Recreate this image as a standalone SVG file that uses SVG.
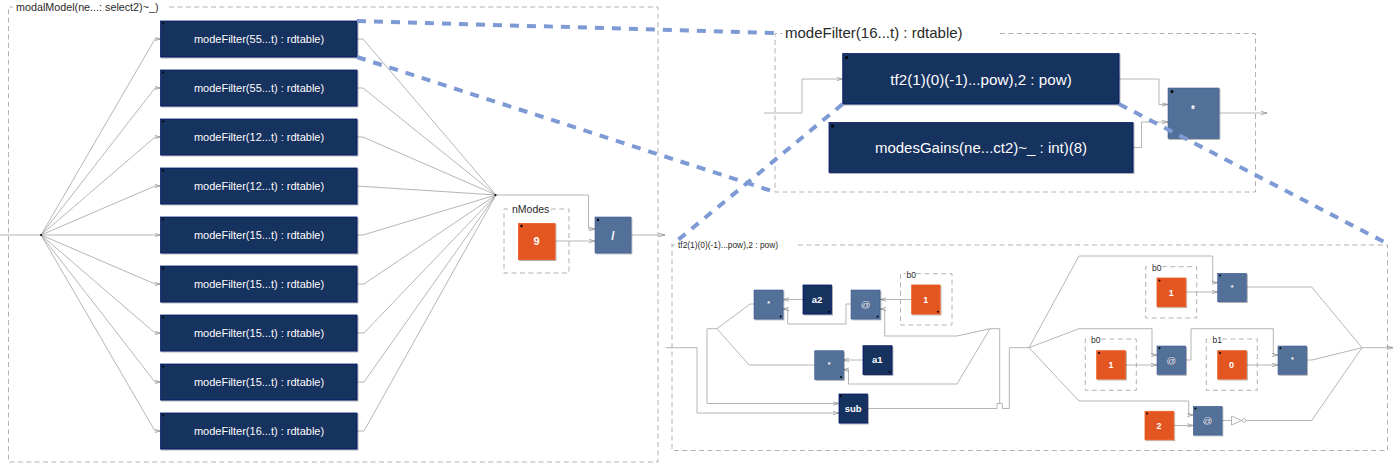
<svg xmlns="http://www.w3.org/2000/svg" width="1400" height="469" viewBox="0 0 1400 469">
<style>
text{font-family:"Liberation Sans",Arial,sans-serif}
.bg{fill:#fff}
.group{fill:none;stroke:#a9a9a9;stroke-width:.9;stroke-dasharray:5 3.4}
.title{fill:#2a2a2a}
.w{fill:none;stroke:#a3a3a3;stroke-width:.8;stroke-linejoin:round}
.a{marker-end:url(#arr)}
.zoom{fill:none;stroke:#7e9ad4;stroke-width:4;stroke-dasharray:9 8}
.dark{fill:#14305f;stroke:#0b1f6b;stroke-width:.8;filter:url(#sh)}
.blue{fill:#527099;stroke:#3f5f96;stroke-width:.6;filter:url(#sh)}
.org{fill:#e35622;stroke:#ee5a1c;stroke-width:.8;filter:url(#sh)}
.l{fill:#fff;text-anchor:middle;stroke:#0d2450;stroke-width:.3;paint-order:stroke}
.n{stroke:none;font-weight:bold}
.d{fill:#000}
</style>
<defs>
<filter id="sh" x="-10%" y="-10%" width="125%" height="125%"><feDropShadow dx="1" dy="1" stdDeviation=".7" flood-color="#000" flood-opacity=".35"/></filter>
<marker id="arr" markerUnits="userSpaceOnUse" markerWidth="8" markerHeight="6" refX="6" refY="3" orient="auto"><path d="M0,1.3L6,3L0,4.7" fill="none" stroke="#8d8d8d" stroke-width=".7"/></marker>
</defs>
<rect class="bg" width="1400" height="469"/>
<g id="groups">
<path class="group" d="M169,7H658V462H8.5V7H13"/>
<path class="group" d="M551,209H569V273H504V209H510"/>
<path class="group" d="M1000,33.500H1255.500V192H775V33.500H782"/>
<path class="group" d="M798,245H1387.500V450.500H672V245H675"/>
<path class="group" d="M916,273.700H952V325H900.500V273.700H906"/>
<path class="group" d="M1162,266.700H1196.700V318H1145.700V266.700H1150.700"/>
<path class="group" d="M1101,339H1136.300V390.300H1085.300V339H1090"/>
<path class="group" d="M1222,339H1257.300V390.300H1206.300V339H1211"/>
<text class="title" x="16" y="11" font-size="10.750">modalModel(ne...: select2)~_)</text>
<text class="title" x="512" y="213" font-size="10.500">nModes</text>
<text class="title" x="785" y="38" font-size="15">modeFilter(16...t) : rdtable)</text>
<text class="title" x="678" y="248" font-size="8.400">tf2(1)(0)(-1)...pow),2 : pow)</text>
<text class="title" x="906.500" y="277.500" font-size="8.500">b0</text>
<text class="title" x="1152" y="270.500" font-size="8.500">b0</text>
<text class="title" x="1091" y="342.500" font-size="8.500">b0</text>
<text class="title" x="1212.500" y="342.500" font-size="8.500">b1</text>
</g>
<g id="connectors">
<path class="w" d="M0,235H41"/>
<path class="w a" d="M41,235L155,39H160.500"/>
<path class="w a" d="M41,235L155,88H160.500"/>
<path class="w a" d="M41,235L155,137H160.500"/>
<path class="w a" d="M41,235L155,186H160.500"/>
<path class="w a" d="M41,235H160.500"/>
<path class="w a" d="M41,235L155,284H160.500"/>
<path class="w a" d="M41,235L155,333H160.500"/>
<path class="w a" d="M41,235L155,382H160.500"/>
<path class="w a" d="M41,235L155,431H160.500"/>
<path class="w" d="M357,39H363L496,195"/>
<path class="w" d="M357,88H363L496,195"/>
<path class="w" d="M357,137H363L496,195"/>
<path class="w" d="M357,186L496,195"/>
<path class="w" d="M357,235H363L496,195"/>
<path class="w" d="M357,284H364L496,195"/>
<path class="w" d="M357,333H364L496,195"/>
<path class="w" d="M357,382H364L496,195"/>
<path class="w" d="M357,431H364L496,195"/>
<path class="w a" d="M496,195H588.500V229H595"/>
<path class="w a" d="M555,241H595"/>
<path class="w a" d="M631,235H665"/>
<path class="w a" d="M764,113H802V79H842.700"/>
<path class="w a" d="M1119,79H1159V104.500H1168"/>
<path class="w a" d="M1133,147.500H1141.500V122H1168"/>
<path class="w a" d="M1219,113H1267"/>
<path class="w a" d="M666,347.700H697V413H839"/>
<path class="w a" d="M717,328.700H707V403.500H839"/>
<path class="w" d="M717,328.700L750,304H754"/>
<path class="w" d="M717,328.700L749,365H815"/>
<path class="w a" d="M803,299.500H783"/>
<path class="w a" d="M851,304H846V324H787.700V309H783"/>
<path class="w a" d="M911.700,299.500H880"/>
<path class="w a" d="M990,328.700L957,336H884.700V309H880"/>
<path class="w a" d="M863,360H843"/>
<path class="w a" d="M990,328.700L957,384H848.500V369.700H843"/>
<path class="w" d="M990,328.700H999.700V403.500"/>
<path class="w" d="M867.500,408.500H997V403.500H1002.300V408.500H1009.300V347.700H1029"/>
<path class="w a" d="M1029,347.700L1079,256H1212.700V282.700H1217.700"/>
<path class="w a" d="M1185.700,292H1217.700"/>
<path class="w" d="M1246.300,287H1311.700L1362,347.700"/>
<path class="w a" d="M1029,347.700L1079,328.700H1152V355H1157"/>
<path class="w a" d="M1125.300,365H1157"/>
<path class="w a" d="M1185.700,360H1191V328.700H1273.300V355H1278"/>
<path class="w a" d="M1246.300,365H1278"/>
<path class="w" d="M1306.700,360H1312L1362,347.700"/>
<path class="w a" d="M1029,347.700L1079,401H1188.700V415H1193.300"/>
<path class="w a" d="M1173.700,425.500H1193.300"/>
<path class="w" d="M1222,420.500H1231.500M1246,420.500H1311.700L1362,347.700"/>
<path class="w" d="M1231.500,416V425L1241.700,420.500ZM1246,420.500A1.800,1.800 0 1 1 1242.400,420.500A1.800,1.800 0 1 1 1246,420.500Z"/>
<path class="w a" d="M1362,347.700H1393"/>
<circle class="d" cx="41" cy="235" r="1"/>
<circle class="d" cx="495.500" cy="195" r="1"/>
</g>
<g id="mf1"><rect class="dark" x="160.500" y="21" width="196.500" height="36"/><circle class="d" cx="163" cy="23.500" r="1"/><text class="l" x="259" y="43" font-size="11">modeFilter(55...t) : rdtable)</text></g>
<g id="mf2"><rect class="dark" x="160.500" y="70" width="196.500" height="36"/><circle class="d" cx="163" cy="72.500" r="1"/><text class="l" x="259" y="92" font-size="11">modeFilter(55...t) : rdtable)</text></g>
<g id="mf3"><rect class="dark" x="160.500" y="119" width="196.500" height="36"/><circle class="d" cx="163" cy="121.500" r="1"/><text class="l" x="259" y="141" font-size="11">modeFilter(12...t) : rdtable)</text></g>
<g id="mf4"><rect class="dark" x="160.500" y="168" width="196.500" height="36"/><circle class="d" cx="163" cy="170.500" r="1"/><text class="l" x="259" y="190" font-size="11">modeFilter(12...t) : rdtable)</text></g>
<g id="mf5"><rect class="dark" x="160.500" y="217" width="196.500" height="36"/><circle class="d" cx="163" cy="219.500" r="1"/><text class="l" x="259" y="239" font-size="11">modeFilter(15...t) : rdtable)</text></g>
<g id="mf6"><rect class="dark" x="160.500" y="266" width="196.500" height="36"/><circle class="d" cx="163" cy="268.500" r="1"/><text class="l" x="259" y="288" font-size="11">modeFilter(15...t) : rdtable)</text></g>
<g id="mf7"><rect class="dark" x="160.500" y="315" width="196.500" height="36"/><circle class="d" cx="163" cy="317.500" r="1"/><text class="l" x="259" y="337" font-size="11">modeFilter(15...t) : rdtable)</text></g>
<g id="mf8"><rect class="dark" x="160.500" y="364" width="196.500" height="36"/><circle class="d" cx="163" cy="366.500" r="1"/><text class="l" x="259" y="386" font-size="11">modeFilter(15...t) : rdtable)</text></g>
<g id="mf9"><rect class="dark" x="160.500" y="413" width="196.500" height="36"/><circle class="d" cx="163" cy="415.500" r="1"/><text class="l" x="259" y="435" font-size="11">modeFilter(16...t) : rdtable)</text></g>
<g id="nine"><rect class="org" x="518.500" y="223.500" width="36.500" height="36"/><circle class="d" cx="521.500" cy="226" r="1.200"/><text class="l n" x="536.500" y="245" font-size="11">9</text></g>
<g id="div"><rect class="blue" x="595" y="217" width="36" height="36"/><circle class="d" cx="598" cy="220" r="1.200"/><text class="l n" x="613" y="239.500" font-size="12">/</text></g>
<g id="tf2"><rect class="dark" x="842.700" y="53.500" width="276.300" height="50.500"/><circle class="d" cx="846.500" cy="57.500" r="1.500"/><text class="l" x="981" y="84.500" font-size="15.200">tf2(1)(0)(-1)...pow),2 : pow)</text></g>
<g id="gains"><rect class="dark" x="829" y="122.500" width="304" height="50"/><circle class="d" cx="832.500" cy="126" r="1.500"/><text class="l" x="981" y="153" font-size="15">modesGains(ne...ct2)~_ : int)(8)</text></g>
<g id="mul"><rect class="blue" x="1168" y="88" width="51" height="50.500"/><circle class="d" cx="1172" cy="91.500" r="1.500"/><text class="l n" x="1193" y="113" font-size="10">*</text></g>
<g id="m1"><rect class="blue" x="754" y="290" width="29" height="29"/><circle class="d" cx="780.700" cy="316.500" r="1"/><text class="l n" x="768.500" y="306" font-size="7">*</text></g>
<g id="a2"><rect class="dark" x="803" y="285" width="28.500" height="29"/><circle class="d" cx="829" cy="311.700" r="1"/><text class="l n" x="817" y="302.500" font-size="9.500">a2</text></g>
<g id="at1"><rect class="blue" x="851" y="290" width="29" height="29"/><circle class="d" cx="877.500" cy="316.500" r="1"/><text class="l" x="865.500" y="308" font-size="9.500">@</text></g>
<g id="b01"><rect class="org" x="911.700" y="285" width="28.300" height="29"/><circle class="d" cx="938" cy="311.700" r="1"/><text class="l n" x="925.800" y="302.500" font-size="9">1</text></g>
<g id="m2"><rect class="blue" x="814.700" y="350.700" width="28.800" height="28.800"/><circle class="d" cx="841" cy="377" r="1"/><text class="l n" x="829" y="366.500" font-size="7">*</text></g>
<g id="a1"><rect class="dark" x="863" y="345.700" width="29" height="28.800"/><circle class="d" cx="889.500" cy="372" r="1"/><text class="l n" x="877.200" y="363" font-size="9.500">a1</text></g>
<g id="sub"><rect class="dark" x="839" y="394" width="28.500" height="29"/><circle class="d" cx="841" cy="396" r="1"/><text class="l n" x="853.200" y="411.500" font-size="9.500">sub</text></g>
<g id="b02"><rect class="org" x="1157" y="278" width="28.700" height="28.700"/><circle class="d" cx="1159.500" cy="280.500" r="1"/><text class="l n" x="1171.300" y="295.500" font-size="9">1</text></g>
<g id="m3"><rect class="blue" x="1217.700" y="273.300" width="28.600" height="28.400"/><circle class="d" cx="1220" cy="275.500" r="1"/><text class="l n" x="1232" y="289.500" font-size="7">*</text></g>
<g id="b03"><rect class="org" x="1096.700" y="350.700" width="28.600" height="28.300"/><circle class="d" cx="1099" cy="353" r="1"/><text class="l n" x="1111" y="368" font-size="9">1</text></g>
<g id="at2"><rect class="blue" x="1157" y="346" width="28.700" height="28.300"/><circle class="d" cx="1159.500" cy="348.300" r="1"/><text class="l" x="1171.300" y="364" font-size="9.500">@</text></g>
<g id="b1"><rect class="org" x="1217.700" y="350.700" width="28.600" height="28.300"/><circle class="d" cx="1220" cy="353" r="1"/><text class="l n" x="1231.500" y="368" font-size="9">0</text></g>
<g id="m4"><rect class="blue" x="1278" y="346" width="28.700" height="28.300"/><circle class="d" cx="1280.300" cy="348.300" r="1"/><text class="l n" x="1292.300" y="362" font-size="7">*</text></g>
<g id="two"><rect class="org" x="1145" y="411.300" width="28.700" height="28.400"/><circle class="d" cx="1147" cy="413.500" r="1"/><text class="l n" x="1159" y="428.500" font-size="9">2</text></g>
<g id="at3"><rect class="blue" x="1193.300" y="406.300" width="28.700" height="28.700"/><circle class="d" cx="1195.500" cy="408.500" r="1"/><text class="l" x="1207.500" y="424" font-size="9.500">@</text></g>
<g id="zoom-lines">
<path class="zoom" d="M357,21L775,33"/>
<path class="zoom" d="M357,57L775,192"/>
<path class="zoom" d="M842.700,104L672,245"/>
<path class="zoom" d="M1119,104L1390,245"/>
</g>
</svg>
